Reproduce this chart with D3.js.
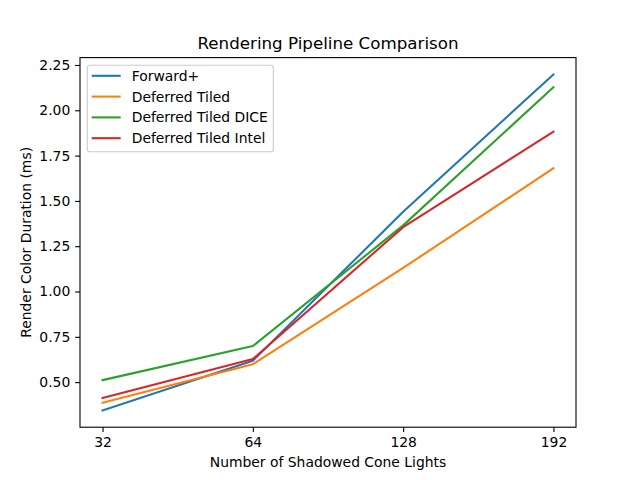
<!DOCTYPE html>
<html><head><meta charset="utf-8">
<script src="https://cdn.jsdelivr.net/npm/d3@7"></script>
<style>body{margin:0;background:#fff}svg{display:block}text{font-family:"DejaVu Sans",sans-serif;fill:#000}</style>
</head><body>
<script>
const categories = ["32", "64", "128", "192"];
const seriesNames = ["Forward+", "Deferred Tiled", "Deferred Tiled DICE", "Deferred Tiled Intel"];
const forwardPlus = [0.344, 0.618, 1.44, 2.198];
const deferredTiled = [0.386, 0.599, 1.13, 1.68];
const deferredTiledDice = [0.511, 0.699, 1.365, 2.127];
const deferredTiledIntel = [0.413, 0.627, 1.355, 1.882];
const yTicks = [0.50, 0.75, 1.00, 1.25, 1.50, 1.75, 2.00, 2.25];
const colors = ["#1f77b4", "#ff7f0e", "#2ca02c", "#d62728"];
const allSeries = [forwardPlus, deferredTiled, deferredTiledDice, deferredTiledIntel];

const W = 640, H = 480;
const L = 80, R = 576, T = 57.6, B = 427.2;
const svg = d3.select("body").append("svg").attr("width", W).attr("height", H);

const idx = d3.range(categories.length);
const x = d3.scaleLinear().domain([-0.15, categories.length - 1 + 0.15]).range([L, R]);
const allVals = allSeries.flat();
const mn = d3.min(allVals), mx = d3.max(allVals), pad = (mx - mn) * 0.05;
const y = d3.scaleLinear().domain([mn - pad, mx + pad]).range([B, T]);

const line = d3.line().x((d, i) => x(i)).y(d => y(d));
allSeries.forEach((s, k) => {
  svg.append("path").datum(s).attr("d", line).attr("fill", "none")
    .attr("stroke", colors[k]).attr("stroke-width", 2.08).attr("stroke-linecap", "square").attr("stroke-linejoin", "round");
});

// axes
const xAxis = d3.axisBottom(x).tickValues(idx).tickFormat(i => categories[i]).tickSize(4.86).tickPadding(4.9);
const gx = svg.append("g").attr("transform", `translate(0,${B})`).call(xAxis);
const yAxis = d3.axisLeft(y).tickValues(yTicks).tickFormat(d3.format(".2f")).tickSize(4.86).tickPadding(4.9);
const gy = svg.append("g").attr("transform", `translate(${L},0)`).call(yAxis);
[gx, gy].forEach(g => {
  g.select(".domain").remove();
  g.selectAll(".tick line").attr("stroke", "#000").attr("stroke-width", 1.1);
  g.selectAll(".tick text").attr("font-size", 13.9).attr("font-family", "DejaVu Sans").attr("fill", "#000");
});
svg.append("rect").attr("x", L).attr("y", T).attr("width", R - L).attr("height", B - T)
  .attr("fill", "none").attr("stroke", "#000").attr("stroke-width", 1.1);

svg.append("text").attr("x", (L + R) / 2).attr("y", 49).attr("text-anchor", "middle")
  .attr("font-size", 16.7).text("Rendering Pipeline Comparison");
svg.append("text").attr("x", (L + R) / 2).attr("y", 467).attr("text-anchor", "middle")
  .attr("font-size", 13.9).text("Number of Shadowed Cone Lights");
svg.append("text").attr("transform", `translate(31,${(T + B) / 2}) rotate(-90)`).attr("text-anchor", "middle")
  .attr("font-size", 13.9).text("Render Color Duration (ms)");

// legend
const lg = svg.append("g");
lg.append("rect").attr("x", 87.3).attr("y", 65.3).attr("width", 186).attr("height", 86.4).attr("rx", 2.8)
  .attr("fill", "#fff").attr("fill-opacity", 0.8).attr("stroke", "#ccc").attr("stroke-width", 1.1);
seriesNames.forEach((n, k) => {
  const yy = 75.8 + k * 20.8;
  lg.append("line").attr("x1", 91.7).attr("x2", 120.7).attr("y1", yy).attr("y2", yy)
    .attr("stroke", colors[k]).attr("stroke-width", 2.08);
  lg.append("text").attr("x", 131.7).attr("y", yy + 5).attr("font-size", 13.9).text(n);
});
</script>
</body></html>
